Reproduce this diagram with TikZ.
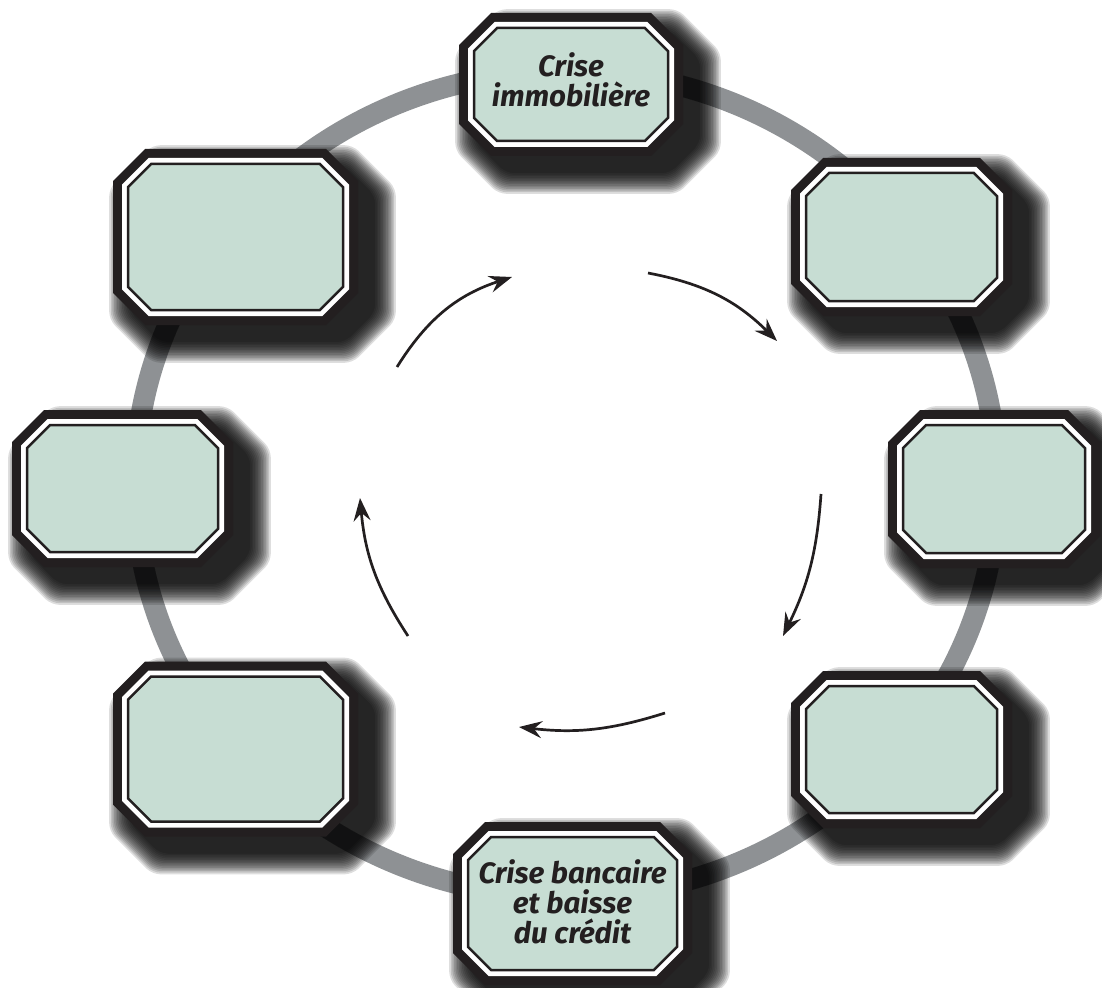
\documentclass[tikz,border=0pt]{standalone}
\usepackage{fontspec}
\newfontfamily\labfont{Fira Sans}
\usetikzlibrary{calc,arrows.meta}
\pgfdeclarelayer{ringlayer}
\pgfdeclarelayer{shadowlayer}
\pgfdeclarelayer{boxlayer}
\pgfsetlayers{ringlayer,shadowlayer,boxlayer,main}
\definecolor{boxfill}{HTML}{C7DDD3}
\definecolor{ringgray}{HTML}{8E9194}
\definecolor{ink}{HTML}{231F20}
% octagon path round node #1, inset #2, chamfer #3
\newcommand\octp[3]{%
($(#1.north west)+({(#2)+(#3)},{#2})$) -- ($(#1.north east)+({-(#2)-(#3)},{#2})$) --
($(#1.north east)+({-(#2)},{(#2)+(#3)})$) -- ($(#1.south east)+({-(#2)},{-(#2)-(#3)})$) --
($(#1.south east)+({-(#2)-(#3)},{-(#2)})$) -- ($(#1.south west)+({(#2)+(#3)},{-(#2)})$) --
($(#1.south west)+({#2},{-(#2)-(#3)})$) -- ($(#1.north west)+({#2},{(#2)+(#3)})$) -- cycle}
\tikzset{
  boxnode/.style={rectangle, inner sep=0pt, outer sep=0pt, align=center, text=ink,
    font=\labfont\bfseries\itshape\fontsize{29.5}{30}\selectfont},
  ringstyle/.style={draw=ringgray, line width=21pt},
  flow/.style={draw=ink, line width=2.7pt, -{Stealth[length=23pt,width=17pt,inset=8pt]}},
  shadowlayerstyle/.style={fill=black, opacity=0.13, rounded corners=8pt}
}
\begin{document}
\begin{tikzpicture}[x=1pt,y=-1pt]
\useasboundingbox (0,0) rectangle (1102,987);

\node[boxnode, minimum width=224pt, minimum height=143pt] (top) at (571,84.5) {Crise\\immobilière\rule[-10pt]{0pt}{0pt}};
\node[boxnode, minimum width=245pt, minimum height=176pt] (tl) at (235.5,237) {};
\node[boxnode, minimum width=221pt, minimum height=158pt] (tr) at (901.5,237) {};
\node[boxnode, minimum width=221pt, minimum height=157pt] (l) at (122.5,488.5) {};
\node[boxnode, minimum width=212pt, minimum height=158pt] (r) at (994,489) {};
\node[boxnode, minimum width=245pt, minimum height=175pt] (bl) at (235.5,749) {};
\node[boxnode, minimum width=221pt, minimum height=157pt] (br) at (901.5,749.5) {};
\node[boxnode, minimum width=239pt, minimum height=163pt] (bot) at (572.5,903.5) {Crise bancaire\\et baisse\\du crédit\rule[-4pt]{0pt}{0pt}};

\begin{pgfonlayer}{ringlayer}
  \draw[ringstyle] (566,484) ellipse [x radius=431pt, y radius=413pt];
\end{pgfonlayer}

\begin{pgfonlayer}{shadowlayer}
  \begin{scope}[transform canvas={shift={(17,17)}}]
  \foreach \n in {top,tl,tr,l,r,bl,br,bot}{
    \foreach \k in {0,...,13}{
      \fill[shadowlayerstyle] \octp{\n}{-\k*1.6}{30+\k*1.0};
    }
  }
  \end{scope}
\end{pgfonlayer}

\begin{pgfonlayer}{boxlayer}
  \foreach \n in {top,tl,tr,l,r,bl,br,bot}{
    \fill[ink] \octp{\n}{0}{32};
    \fill[white] \octp{\n}{9}{26.7};
    \filldraw[fill=boxfill, draw=ink, line width=2.5pt] \octp{\n}{15}{23.2};
  }
\end{pgfonlayer}

\coordinate (a1s) at (397,367); \coordinate (a1e) at (512,277);
\coordinate (a2s) at (648,273); \coordinate (a2e) at (777,341);
\coordinate (a3s) at (821,494); \coordinate (a3e) at (783,636);
\coordinate (a4s) at (665,713); \coordinate (a4e) at (519,727);
\coordinate (a5s) at (408,636); \coordinate (a5e) at (360,498);
\draw[flow] (a1s) to[bend left=20] (a1e);
\draw[flow] (a2s) to[bend left=17] (a2e);
\draw[flow] (a3s) to[bend left=11] (a3e);
\draw[flow] (a4s) to[bend left=12] (a4e);
\draw[flow] (a5s) to[bend left=14] (a5e);
\end{tikzpicture}
\end{document}
